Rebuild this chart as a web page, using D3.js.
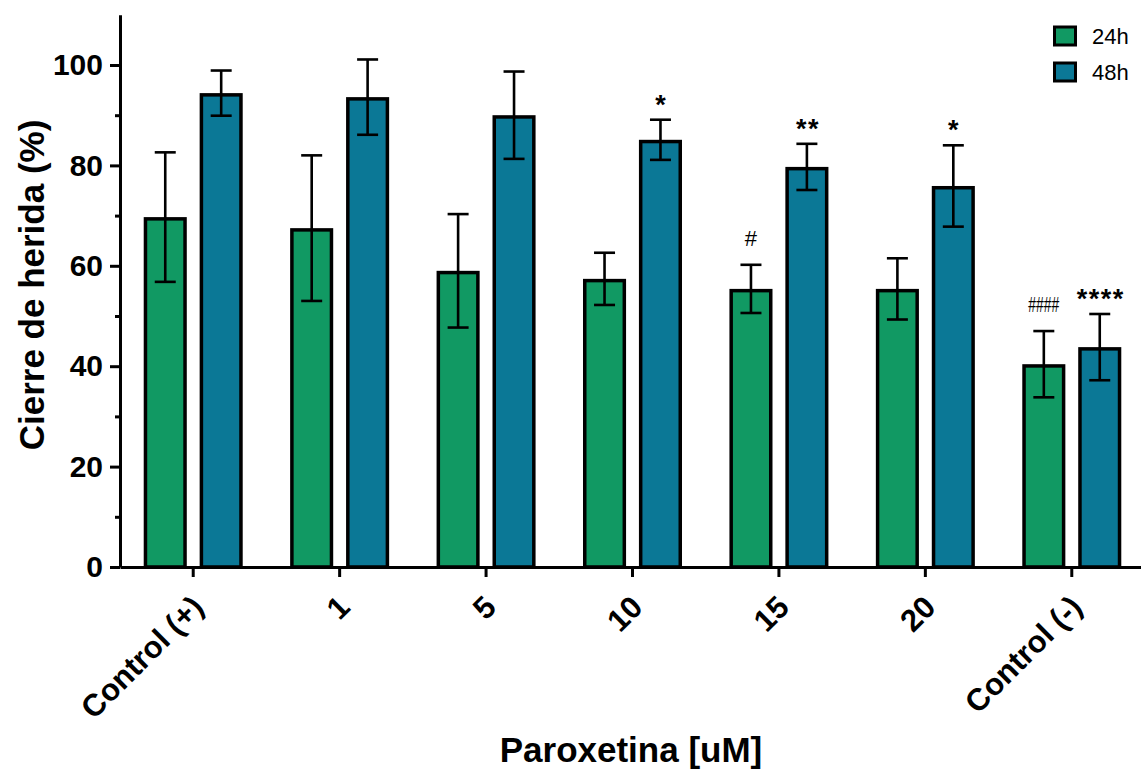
<!DOCTYPE html>
<html>
<head>
<meta charset="utf-8">
<script src="https://cdn.jsdelivr.net/npm/d3@7"></script>
<style>
  html, body { margin: 0; padding: 0; background: #fff; }
  svg { display: block; font-family: "Liberation Sans", Arial, sans-serif; }
</style>
</head>
<body>
<div id="chart"></div>
<script>
// ─── Data ───
const categories = ["Control (+)", "1", "5", "10", "15", "20", "Control (-)"];
const series = ["24h", "48h"];
const mean24 = [69.7, 67.5, 59.0, 57.4, 55.4, 55.4, 40.4];
const sd24   = [12.9, 14.5, 11.3,  5.2,  4.8,  6.1,  6.6];
const mean48 = [94.4, 93.6, 90.0, 85.1, 79.7, 75.9, 43.8];
const sd48   = [ 4.5,  7.5,  8.7,  4.0,  4.6,  8.1,  6.6];
const majorTicks = [0, 20, 40, 60, 80, 100];
const minorTicks = [10, 30, 50, 70, 90];
const marks = [
  { cat: "10",          s: "48h", label: "*" },
  { cat: "15",          s: "24h", label: "#" },
  { cat: "15",          s: "48h", label: "**" },
  { cat: "20",          s: "48h", label: "*" },
  { cat: "Control (-)", s: "24h", label: "####" },
  { cat: "Control (-)", s: "48h", label: "****" }
];

const colors = { "24h": "#119963", "48h": "#0b7896" };

const width = 1141, height = 772;
const svg = d3.select("#chart").append("svg")
  .attr("width", width).attr("height", height);

// ─── Scales ───
const y = d3.scaleLinear().domain([0, 110]).range([567, 14.8]);
const x = d3.scaleBand().domain(categories).range([120, 1145]);
const x1 = d3.scaleBand().domain(series).range([-49.5, 49.5]).paddingInner(0.23);

const rows = [];
categories.forEach((c, i) => {
  rows.push({ cat: c, s: "24h", v: mean24[i], sd: sd24[i] });
  rows.push({ cat: c, s: "48h", v: mean48[i], sd: sd48[i] });
});
const cx = d => x(d.cat) + x.bandwidth() / 2;
const bx = d => cx(d) + x1(d.s);

// ─── Bars ───
const bw = 3.5;
svg.append("g").selectAll("rect")
  .data(rows).enter().append("rect")
    .attr("x", d => bx(d) + bw / 2)
    .attr("y", d => y(d.v) + bw / 2)
    .attr("width", x1.bandwidth() - bw)
    .attr("height", d => y(0) - y(d.v) - bw / 2)
    .attr("fill", d => colors[d.s])
    .attr("stroke", "#000")
    .attr("stroke-width", bw);

// ─── Error bars ───
const eb = svg.append("g").attr("stroke", "#000").attr("stroke-width", 2.6);
rows.forEach(d => {
  const mx = bx(d) + x1.bandwidth() / 2;
  eb.append("line").attr("x1", mx).attr("x2", mx)
    .attr("y1", y(d.v - d.sd)).attr("y2", y(d.v + d.sd));
  [d.v - d.sd, d.v + d.sd].forEach(v => {
    eb.append("line").attr("x1", mx - 10.5).attr("x2", mx + 10.5)
      .attr("y1", y(v)).attr("y2", y(v));
  });
});

// ─── Axes ───
const yAxis = svg.append("g")
  .attr("transform", "translate(120,0)")
  .call(d3.axisLeft(y).tickValues(majorTicks).tickSize(10).tickSizeOuter(0).tickPadding(7));
yAxis.selectAll("text")
  .attr("font-size", 30).attr("font-weight", "bold").attr("fill", "#000");
const yMinor = svg.append("g")
  .attr("transform", "translate(120,0)")
  .call(d3.axisLeft(y).tickValues(minorTicks).tickSize(5).tickFormat(""));
yMinor.select(".domain").remove();

const xAxis = svg.append("g")
  .attr("transform", `translate(0,${y(0)})`)
  .call(d3.axisBottom(x).tickSize(10).tickSizeOuter(0));
xAxis.selectAll("text")
  .attr("font-size", 31).attr("font-weight", "bold").attr("fill", "#000")
  .attr("text-anchor", "end")
  .attr("dy", null).attr("y", null)
  .attr("transform", "translate(12,42) rotate(-45)");

svg.selectAll(".domain, .tick line")
  .attr("stroke", "#000").attr("stroke-width", 3);

// ─── Axis titles ───
svg.append("text")
  .attr("transform", "translate(44,285) rotate(-90)")
  .attr("text-anchor", "middle")
  .attr("font-size", 35).attr("font-weight", "bold")
  .text("Cierre de herida (%)");

svg.append("text")
  .attr("x", 631).attr("y", 762)
  .attr("text-anchor", "middle")
  .attr("font-size", 35).attr("font-weight", "bold")
  .text("Paroxetina [uM]");

// ─── Significance marks ───
marks.forEach(m => {
  const r = rows.find(d => d.cat === m.cat && d.s === m.s);
  const mx = bx(r) + x1.bandwidth() / 2;
  const top = y(r.v + r.sd);
  if (m.label[0] === "*") {
    svg.append("text")
      .attr("x", mx + (m.label.length > 1 ? 1 : 0)).attr("y", top - 22 + 16)
      .attr("text-anchor", "middle")
      .attr("font-size", 27).attr("font-weight", "bold")
      .attr("letter-spacing", m.label.length > 1 ? 1.5 : 0)
      .text(m.label);
  } else {
    const t = svg.append("text")
      .attr("x", mx).attr("y", top - 27 + 8)
      .attr("text-anchor", "middle")
      .attr("font-size", 22)
      .text(m.label);
    if (m.label.length > 1) t.attr("textLength", 31).attr("lengthAdjust", "spacingAndGlyphs");
  }
});

// ─── Legend ───
const legend = svg.append("g");
series.forEach((s, i) => {
  const ly = 36 + i * 36;
  legend.append("rect")
    .attr("x", 1054.5).attr("y", ly - 9)
    .attr("width", 21).attr("height", 18)
    .attr("fill", colors[s]).attr("stroke", "#000").attr("stroke-width", 3);
  legend.append("text")
    .attr("x", 1092).attr("y", ly + 8)
    .attr("font-size", 22)
    .text(s);
});
</script>
</body>
</html>
